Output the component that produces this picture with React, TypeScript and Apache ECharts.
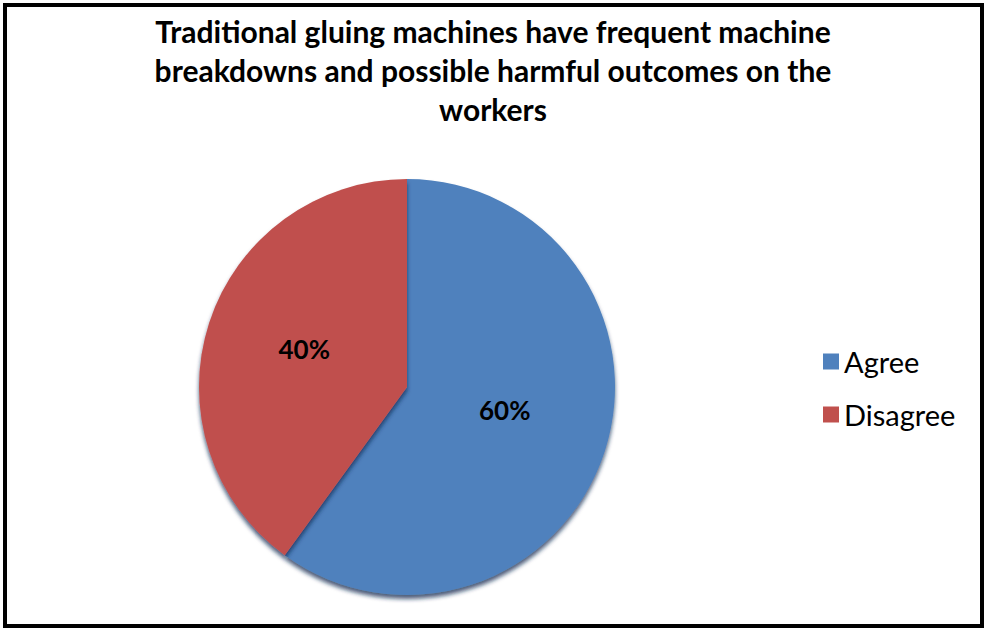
import React, { useEffect, useRef } from "react";
import * as echarts from "echarts";

const titleLines = [
  "Traditional gluing machines have frequent machine",
  "breakdowns and possible harmful outcomes on the",
  "workers",
];
const categories = ["Agree", "Disagree"];
const values = [60, 40];
const colors = ["#4F81BD", "#C0504D"];
const labelOffsets = [
  [-4, -10],
  [-1, -5],
];

export default function App() {
  const ref = useRef<HTMLDivElement>(null);
  useEffect(() => {
    document.body.style.margin = "0";
    const chart = echarts.init(ref.current!, null, { renderer: "svg" });
    chart.setOption({
      animation: false,
      backgroundColor: "#ffffff",
      title: {
        text: titleLines.join("\n"),
        left: "center",
        top: 6,
        textStyle: {
          fontFamily: "Lato",
          fontWeight: "bold",
          fontSize: 30,
          lineHeight: 39,
          color: "#000",
        },
      },
      legend: {
        orient: "vertical",
        left: 818,
        top: 342,
        itemWidth: 16,
        itemHeight: 16,
        itemGap: 24,
        icon: "rect",
        textStyle: { fontFamily: "Lato", fontSize: 29, color: "#000" },
        data: categories,
      },
      graphic: [
        {
          type: "rect",
          shape: { x: 5, y: 5, width: 977, height: 621 },
          style: { fill: "none", stroke: "#000", lineWidth: 4 },
          z: 100,
        },
      ],
      series: [
        {
          type: "pie",
          center: [407, 387],
          radius: 208,
          startAngle: 90,
          clockwise: true,
          data: categories.map((c, i) => ({
            name: c,
            value: values[i],
            itemStyle: { color: colors[i] },
            label: { offset: labelOffsets[i] },
          })),
          itemStyle: {
            shadowColor: "rgba(20,40,80,0.75)",
            shadowBlur: 4,
            shadowOffsetY: 4,
          },
          label: {
            show: true,
            position: "inside",
            formatter: "{d}%",
            fontFamily: "Lato",
            fontWeight: "bold",
            fontSize: 26,
            color: "#000",
          },
          labelLine: { show: false },
          emphasis: { disabled: true },
        },
      ],
    });
    return () => chart.dispose();
  }, []);
  return <div ref={ref} style={{ width: 986, height: 630 }} />;
}
